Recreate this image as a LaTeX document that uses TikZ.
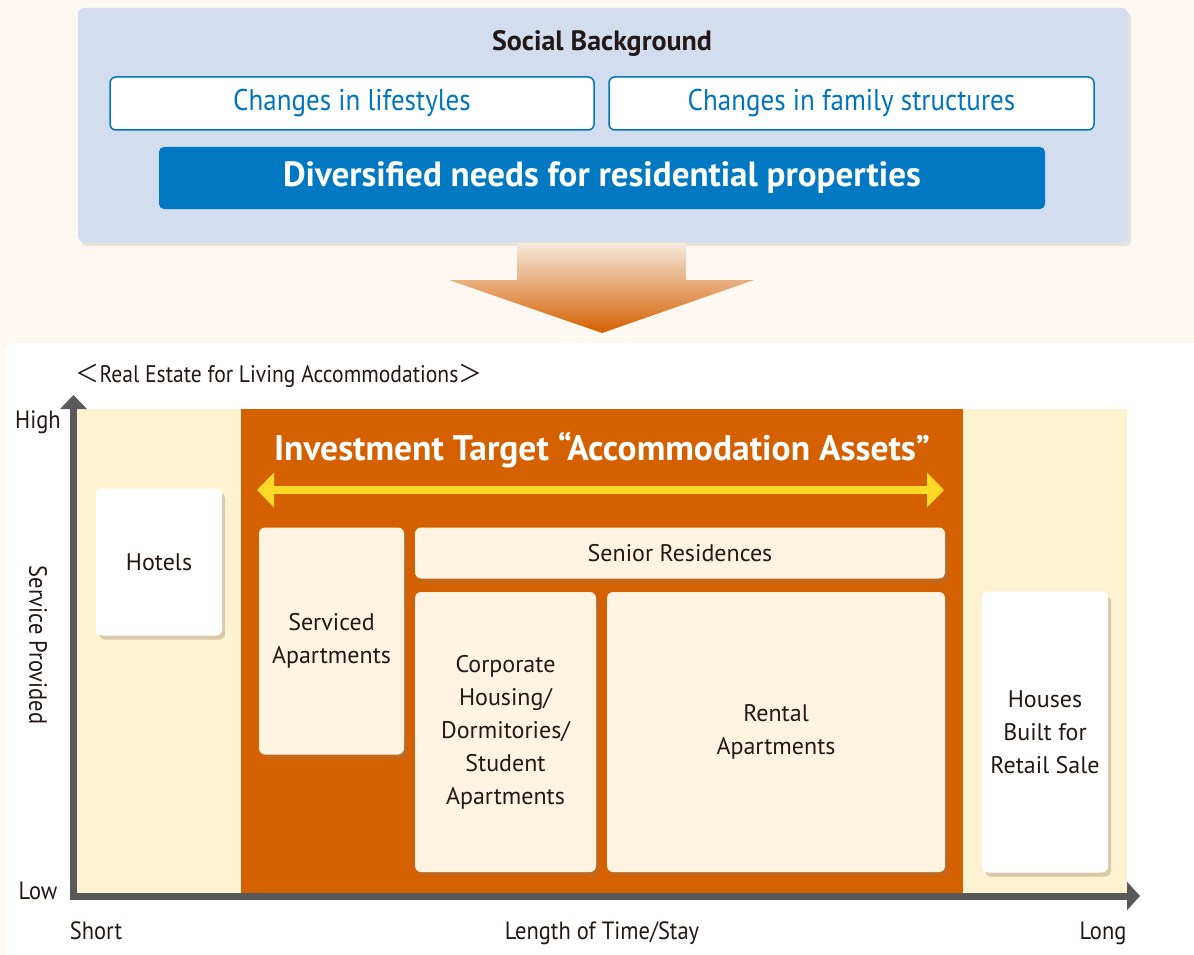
\documentclass[tikz,border=0pt]{standalone}
\usepackage{fontspec}
\setmainfont{PT Sans}
\newfontfamily\narrowsans{PT Sans}[FakeStretch=0.9]
\newfontfamily\cjk{Noto Sans CJK JP}
\usetikzlibrary{arrows.meta,shadows}

\definecolor{paper}{HTML}{FDF8F1}
\definecolor{ink}{HTML}{231815}
\definecolor{panelblue}{HTML}{D3DDF0}
\definecolor{lineblue}{HTML}{0075BF}
\definecolor{needblue}{HTML}{0079C2}
\definecolor{chartcream}{HTML}{FEF3D1}
\definecolor{targetorange}{HTML}{D46000}
\definecolor{boxcream}{HTML}{FFF4E1}
\definecolor{spanyellow}{HTML}{FFD926}
\definecolor{axisgray}{HTML}{595959}
\definecolor{arrowtop}{HTML}{F6E9DC}

\begin{document}
\begin{tikzpicture}[x=1pt, y=-1pt,
  panel/.style={fill=panelblue, rounded corners=6pt, drop shadow={shadow xshift=3pt, shadow yshift=-4pt, opacity=.18}},
  changebox/.style={draw=lineblue, line width=1.5pt, fill=white, rounded corners=6pt, text=lineblue, font=\narrowsans\fontsize{30}{36}\selectfont},
  needbox/.style={fill=needblue, rounded corners=5pt, text=white, font=\bfseries\fontsize{35}{40}\selectfont},
  assetbox/.style={fill=boxcream, rounded corners=6pt, align=center, text=ink, inner sep=0pt, font=\fontsize{24}{33}\selectfont, drop shadow={shadow xshift=3pt, shadow yshift=-4pt, opacity=.25}},
  otherbox/.style={assetbox, fill=white, drop shadow={shadow xshift=3pt, shadow yshift=-4pt, opacity=.15, fill=brown}},
  label/.style={text=ink, font=\narrowsans\fontsize{25}{28}\selectfont},
  axis/.style={draw=axisgray, line width=7pt}]
\useasboundingbox (0,0) rectangle (1194,955);
\fill[paper] (0,0) rectangle (1194,955);
\fill[white, rounded corners=8pt] (5,343) rectangle (1210,970);

% social background
\node[panel, minimum width=1050pt, minimum height=234pt] (social) at (603,125) {};
\node[text=ink, font=\bfseries\fontsize{28}{32}\selectfont] (socialtitle) at (602,43) {Social Background};
\node[changebox, minimum width=484pt, minimum height=53pt] (lifestyles) at (352,103.5) {Changes in lifestyles};
\node[changebox, minimum width=485pt, minimum height=53pt] (family) at (851.5,103.5) {Changes in family structures};
\node[needbox, minimum width=886pt, minimum height=62pt] (needs) at (602,178) {Diversified needs for residential properties};

% big arrow
\shade[top color=arrowtop, bottom color=targetorange] (517,243) -- (686,243) -- (686,280) -- (754,280) -- (602,333) -- (449,280) -- (517,280) -- cycle;

% chart
\node[label, font=\narrowsans\fontsize{24}{28}\selectfont, anchor=west] (charttitle) at (72,376) {{\cjk ＜}Real Estate for Living Accommodations{\cjk ＞}};
\fill[chartcream] (77,409) rectangle (1127,893);
\fill[targetorange] (241,409) rectangle (963,893);
\coordinate (origin) at (73.5,896);
\coordinate (ytip) at (73.5,395);
\coordinate (xtip) at (1140,896);
\draw[axis, -{Triangle[length=14pt, width=26pt]}] ([yshift=-3.5pt]origin) -- (ytip);
\draw[axis, -{Triangle[length=13pt, width=28pt]}] ([xshift=-3.5pt]origin) -- (xtip);
\node[label] (high) at (38,422) {High};
\node[label] (low) at (38,891) {Low};
\node[label, rotate=-90] (service) at (38,645) {Service Provided};
\node[label, anchor=base] (short) at (96,939) {Short};
\node[label, anchor=base] (stay) at (602,939) {Length of Time/Stay};
\node[label, anchor=base] (long) at (1103,939) {Long};

% investment target
\node[text=white, font=\bfseries\fontsize{35.5}{40}\selectfont] (target) at (602,450) {Investment Target “Accommodation Assets”};
\coordinate (spanleft) at (257,490);
\coordinate (spanright) at (944,490);
\draw[spanyellow, line width=8pt, {Triangle[length=17pt, width=34pt]}-{Triangle[length=17pt, width=34pt]}] (spanleft) -- (spanright);

% boxes
\node[otherbox, minimum width=126pt, minimum height=147pt] (hotels) at (159,562) {Hotels};
\node[assetbox, minimum width=145pt, minimum height=227pt] (serviced) at (331.5,641) {Serviced\\Apartments};
\node[assetbox, minimum width=530pt, minimum height=51pt] (senior) at (680,553) {Senior Residences};
\node[assetbox, minimum width=181pt, minimum height=280pt] (corporate) at (505.5,732) {Corporate\\Housing/\\Dormitories/\\Student\\Apartments};
\node[assetbox, minimum width=338pt, minimum height=280pt] (rental) at (776,732) {Rental\\Apartments};
\node[otherbox, minimum width=126pt, minimum height=281pt] (houses) at (1045,732) {Houses\\Built for\\Retail Sale};
\end{tikzpicture}
\end{document}
